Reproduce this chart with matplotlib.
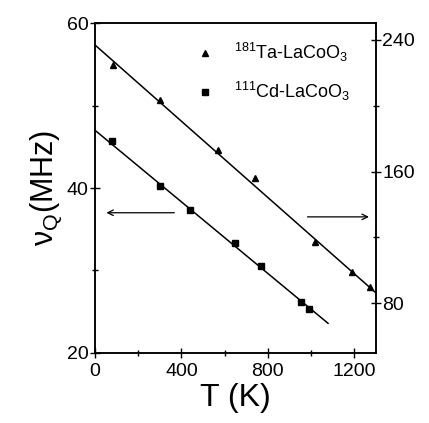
import matplotlib
matplotlib.use("Agg")
import matplotlib.pyplot as plt

plt.rcParams['font.family'] = ['Liberation Sans', 'DejaVu Sans']
plt.rcParams['mathtext.fontset'] = 'custom'
plt.rcParams['mathtext.rm'] = 'Liberation Sans'

# 181Ta-LaCoO3, right axis
ta_T = [83, 300, 570, 740, 1017, 1190, 1272]
ta_nu = [224.5, 203.3, 173.0, 156.0, 117.3, 99.0, 90.0]
ta_fit_T = [0, 1300]
ta_fit_nu = [236.7, 86.4]

# 111Cd-LaCoO3, left axis
cd_T = [77, 300, 440, 647, 770, 955, 990]
cd_nu = [45.7, 40.2, 37.3, 33.3, 30.5, 26.2, 25.3]
cd_fit_T = [0, 1078]
cd_fit_nu = [47.0, 23.6]

fig = plt.figure(figsize=(4.29, 4.23), dpi=100)
ax = fig.add_axes([0.2214, 0.1655, 0.6551, 0.7801])
ax2 = ax.twinx()

ax.plot(cd_fit_T, cd_fit_nu, color='black', lw=1.1)
h_cd, = ax.plot(cd_T, cd_nu, 's', color='black', ms=4, label='$^{111}$Cd-LaCoO$_3$')
ax2.plot(ta_fit_T, ta_fit_nu, color='black', lw=1.1)
h_ta, = ax2.plot(ta_T, ta_nu, '^', color='black', ms=4.5, label='$^{181}$Ta-LaCoO$_3$')

ax.set_xlim(0, 1300)
ax.set_ylim(20, 60)
ax2.set_ylim(50, 250)

ax.set_xticks([0, 400, 800, 1200])
ax.set_xticks([200, 600, 1000], minor=True)
ax.set_yticks([20, 40, 60])
ax.set_yticks([30, 50], minor=True)
ax2.set_yticks([80, 160, 240])
ax2.set_yticks([120, 200], minor=True)

for a in (ax, ax2):
    a.tick_params(which='major', direction='inout', length=7, width=1, labelsize=14, pad=1)
    a.tick_params(which='minor', direction='inout', length=5, width=1)
    for s in a.spines.values():
        s.set_linewidth(1.1)
ax.tick_params(axis='x', pad=4)
ax.tick_params(top=False)

ax.set_xlabel('T (K)', fontsize=23, labelpad=2)
ax.set_ylabel(r'ν$_{\mathrm{Q}}$(MHz)', fontsize=22, labelpad=2)

# arrows showing which axis each series uses
ax.annotate('', xy=(40, 37.0), xytext=(380, 37.0),
            arrowprops=dict(arrowstyle='->', color='black', lw=0.9))
ax.annotate('', xy=(1280, 36.5), xytext=(970, 36.5),
            arrowprops=dict(arrowstyle='->', color='black', lw=0.9))

ax2.legend(handles=[h_ta, h_cd], loc='upper left', bbox_to_anchor=(0.29, 0.995),
           frameon=False, fontsize=13, handlelength=1.4, handletextpad=0.9,
           labelspacing=0.9)

fig.savefig('out.png', dpi=100)
